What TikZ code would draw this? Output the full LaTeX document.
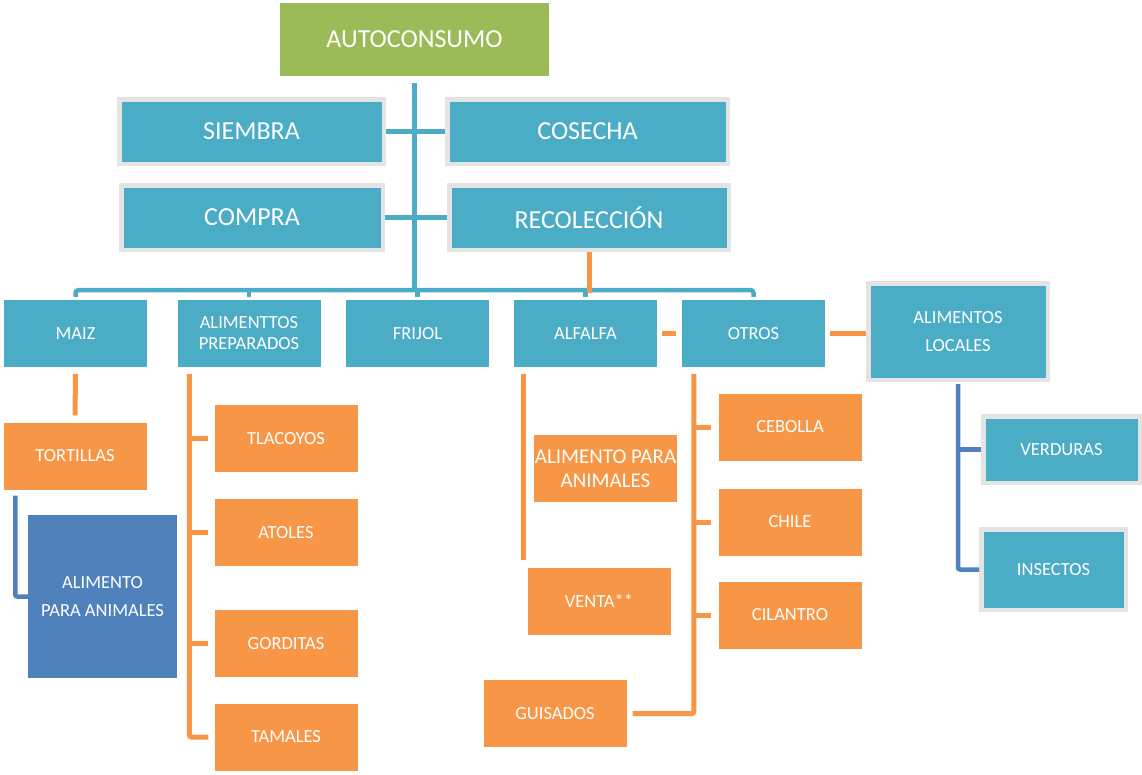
\documentclass[tikz,border=0pt]{standalone}
\usepackage{fontspec}
\setmainfont{Carlito}
\usetikzlibrary{calc}
\definecolor{verde}{HTML}{9BBB59}
\definecolor{turq}{HTML}{4BACC6}
\definecolor{naranja}{HTML}{F79646}
\definecolor{azul}{HTML}{4F81BD}
\definecolor{marco}{HTML}{E4E4E4}
\newcommand{\fg}{\fontsize{26}{30}\selectfont}
\newcommand{\fc}{\fontsize{18.5}{21}\selectfont}

\begin{document}
\begin{tikzpicture}[x=1pt, y=-1pt,
  caja/.style={rectangle, inner sep=0pt, text=white, align=center, font=\fc, minimum width=143pt, minimum height=67pt},
  turqc/.style={caja, fill=turq},
  naranc/.style={caja, fill=naranja},
  marcoc/.style={turqc, draw=marco, line width=4.5pt},
  lt/.style={draw=turq, line width=4.5pt},
  ln/.style={draw=naranja, line width=5pt},
  la/.style={draw=azul, line width=4.5pt}]
      \useasboundingbox (0,0) rectangle (1142,774);
      \node[caja, fill=verde, font=\fg, minimum width=269pt, minimum height=73pt] (AU) at (414.5,39.5) {AUTOCONSUMO};
      \node[marcoc, font=\fg, minimum width=264.5pt, minimum height=64.5pt] (SI) at (251.5,131.5) {SIEMBRA};
      \node[marcoc, font=\fg, minimum width=280.5pt, minimum height=64.5pt] (CO) at (587.5,131.5) {COSECHA};
      \node[marcoc, font=\fg, minimum width=261.5pt, minimum height=64.5pt] (CP) at (252,217.5) {COMPRA};
      \node[marcoc, font=\fg, minimum width=279.5pt, minimum height=64.5pt] (RE) at (589,217.5) {RECOLECCIÓN};
      \node[turqc] (MA) at (75.5,333.5) {MAIZ};
      \node[turqc] (AP) at (249,333.5) {ALIMENTTOS\\PREPARADOS};
      \node[turqc] (FR) at (417.5,333.5) {FRIJOL};
      \node[turqc] (AL) at (585.5,333.5) {ALFALFA};
      \node[turqc] (OT) at (753.5,333.5) {OTROS};
      \node[marcoc, minimum width=179.5pt, minimum height=96.5pt, font=\fontsize{18.5}{28}\selectfont] (LO) at (958,331.5) {ALIMENTOS\\LOCALES};
      \node[naranc] (TO) at (75,456) {TORTILLAS};
      \node[caja, fill=azul, minimum width=149pt, minimum height=163pt, font=\fontsize{18.5}{28}\selectfont] (AN) at (102.5,596.5) {ALIMENTO\\PARA ANIMALES};
      \node[naranc] (TL) at (286,438.5) {TLACOYOS};
      \node[naranc] (AT) at (286,532.5) {ATOLES};
      \node[naranc] (GO) at (286,643.5) {GORDITAS};
      \node[naranc] (TA) at (286,737) {TAMALES};
      \node[naranc, font=\fontsize{21}{24}\selectfont] (AA) at (605.5,468.5) {ALIMENTO PARA\\ANIMALES};
      \node[naranc] (VE) at (599,601) {VENTA**};
      \node[naranc] (CE) at (790,427) {CEBOLLA};
      \node[naranc] (CH) at (790,522) {CHILE};
      \node[naranc] (CI) at (790,615) {CILANTRO};
      \node[naranc] (GU) at (555,713.5) {GUISADOS};
      \node[marcoc, minimum width=156.5pt, minimum height=66.5pt] (VR) at (1061.5,449.5) {VERDURAS};
      \node[marcoc, minimum width=144.5pt, minimum height=80.5pt] (IN) at (1053.5,569.5) {INSECTOS};
      \coordinate (B) at (414,290);
      \coordinate (sAP) at ([xshift=12pt]AP.south west);
      \coordinate (sAL) at ([xshift=10pt]AL.south west);
      \coordinate (sOT) at ([xshift=12pt]OT.south west);
      \draw[lt] ([yshift=-7pt]AU.south) -- (AU.south |- B);
      \draw[lt] (SI.east) -- (CO.west);
      \draw[lt] (CP.east) -- (RE.west);
      \draw[lt, rounded corners=3pt] ([yshift=3pt]MA.north) |- (B) -| ([yshift=3pt]OT.north);
      \foreach \n in {AP,FR,AL} \draw[lt] (\n.north |- B) -- ([yshift=3pt]\n.north);
      \draw[ln] (RE.south) -- ($(RE.south |- AL.north)+(0,-7)$);
      \draw[ln] ([xshift=5pt]AL.east) -- ([xshift=-6pt]OT.west);
      \draw[ln] ([xshift=5pt]OT.east) -- (OT.east -| LO.west);
      \draw[ln] ([yshift=-7pt]MA.south) -- ([yshift=7pt]TO.north);
      \draw[la, rounded corners=2pt] ([xshift=12pt,yshift=-6pt]TO.south west) |- (AN.west);
      \draw[ln, rounded corners=2pt] ([yshift=-7pt]sAP) |- ([xshift=-6pt]TA.west);
      \foreach \n in {TL,AT,GO} \draw[ln] ([xshift=-6pt]\n.west) -- (\n.west -| sAP);
      \draw[ln] ([yshift=-7pt]sAL) -- ($(sAL |- VE.north)+(0,-7)$);
      \draw[ln, rounded corners=2pt] ([yshift=-7pt]sOT) |- ([xshift=6pt]GU.east);
      \foreach \n in {CE,CH,CI} \draw[ln] ([xshift=-7pt]\n.west) -- (\n.west -| sOT);
      \draw[la, rounded corners=2pt] ([yshift=-2pt]LO.south) |- (IN.west);
      \draw[la] (VR.west) -- (VR.west -| LO.south);
    \end{tikzpicture}
\end{document}
